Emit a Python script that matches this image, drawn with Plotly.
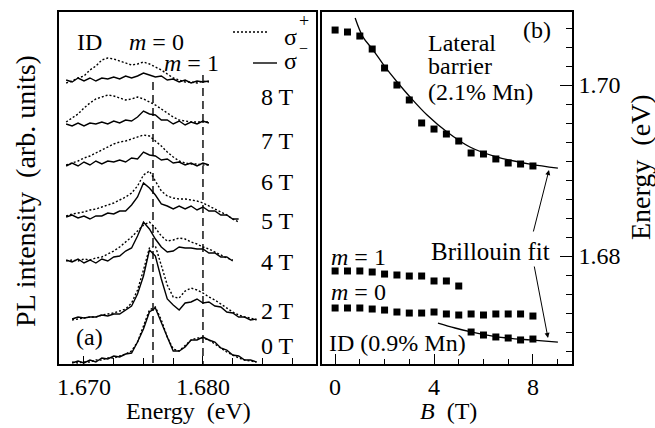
import plotly.graph_objects as go

W, H = 655, 428
FONT = "Liberation Serif, Times New Roman, serif"

# ---------------- Panel (a): PL spectra ----------------
E_GRID = [1.6685, 1.6690, 1.6695, 1.6700, 1.6705, 1.6710, 1.6715, 1.6720, 1.6725,
          1.6730, 1.6735, 1.6740, 1.6745, 1.6750, 1.6755, 1.6760, 1.6765, 1.6770,
          1.6775, 1.6780, 1.6785, 1.6790, 1.6795, 1.6800, 1.6805, 1.6810, 1.6815,
          1.6820, 1.6825, 1.6830, 1.6835, 1.6840, 1.6845, 1.6850]

FIELD_LABELS = ["8 T", "7 T", "6 T", "5 T", "4 T", "2 T", "0 T"]
START_INDEX = [0, 0, 0, 0, 0, 1, 1]

# sigma+ (dotted) intensities, arb. units (offset included)
SP_8T = [281, 283, 286, 288, 294, 298, 304, 306, 305, 303, 301, 299, 300, 302, 300, 297, 294, 290, 286, 284, 282, 282, 281, 283, 282]
SP_7T = [242, 246, 250, 256, 261, 265, 267, 269, 268, 266, 264, 265, 267, 265, 262, 259, 255, 251, 247, 244, 243, 242, 242, 242, 242]
SP_6T = [199, 201, 203, 206, 208, 211, 214, 217, 220, 222, 223, 225, 227, 229, 228, 223, 218, 212, 207, 203, 201, 200, 200, 199, 199]
SP_5T = [148, 150, 151, 152, 154, 155, 157, 159, 161, 164, 167, 171, 178, 189, 193, 183, 173, 168, 166, 165, 165, 164, 163, 161, 158, 155, 152, 149, 145, 142]
SP_4T = [103, 104, 103, 105, 104, 106, 107, 110, 113, 117, 122, 127, 133, 139, 142, 136, 128, 123, 124, 126, 125, 122, 120, 117, 115, 112, 109, 106, 104]
SP_2T = [44, 45, 46, 47, 47, 49, 50, 51, 53, 55, 61, 74, 94, 116, 118, 98, 79, 67, 66, 73, 76, 74, 71, 67, 64, 60, 56, 52, 49, 47, 46, 44]
SP_0T = [2, 1, 2, 2, 4, 4, 6, 6, 8, 10, 13, 22, 38, 54, 57, 44, 27, 15, 13, 19, 24, 26, 26, 24, 20, 16, 12, 9, 6, 4, 3, 2]

# sigma- (solid) intensities
SM_8T = [284, 282, 286, 283, 286, 283, 286, 285, 287, 285, 288, 286, 288, 291, 289, 287, 288, 284, 285, 282, 284, 281, 283, 282, 283]
SM_7T = [240, 238, 241, 238, 241, 240, 242, 240, 243, 241, 244, 243, 247, 253, 250, 249, 244, 244, 240, 243, 239, 242, 240, 243, 241]
SM_6T = [198, 201, 198, 202, 199, 203, 200, 203, 202, 204, 202, 206, 205, 212, 209, 208, 204, 205, 201, 202, 199, 201, 198, 201, 199]
SM_5T = [147, 149, 146, 148, 145, 148, 148, 151, 150, 153, 153, 159, 167, 181, 176, 169, 160, 158, 155, 158, 155, 158, 154, 157, 153, 153, 149, 149, 145, 145]
SM_4T = [104, 102, 105, 101, 104, 101, 105, 103, 107, 108, 113, 116, 128, 142, 135, 125, 117, 112, 113, 117, 116, 116, 115, 115, 111, 111, 107, 107, 103]
SM_2T = [45, 47, 46, 47, 47, 49, 48, 50, 50, 54, 58, 70, 88, 114, 108, 85, 65, 59, 54, 61, 62, 65, 61, 62, 58, 57, 52, 51, 47, 47, 44, 45]
SM_0T = [1, 3, 1, 4, 2, 6, 5, 8, 7, 10, 11, 22, 35, 52, 56, 41, 27, 13, 13, 17, 24, 24, 27, 24, 22, 16, 14, 9, 8, 4, 4, 2]

SIGMA_PLUS = [SP_8T, SP_7T, SP_6T, SP_5T, SP_4T, SP_2T, SP_0T]
SIGMA_MINUS = [SM_8T, SM_7T, SM_6T, SM_5T, SM_4T, SM_2T, SM_0T]
LABEL_LEVEL = [267, 223, 182, 143, 102, 53, 18]

M_LINE_ENERGY = [1.6758, 1.6800]
M_LINE_TOP = [282, 289]

# ---------------- Panel (b): energies vs B ----------------
B_ALL = [0, 0.5, 1, 1.5, 2, 2.5, 3, 3.5, 4, 4.5, 5, 5.5, 6, 6.5, 7, 7.5, 8]
E_LATERAL = [1.70643, 1.70620, 1.70573, 1.70421, 1.70199, 1.70000, 1.69825, 1.69556, 1.69485,
             1.69427, 1.69345, 1.69205, 1.69193, 1.69135, 1.69088, 1.69076, 1.69053]
B_M1 = [0, 0.5, 1, 1.5, 2, 2.5, 3, 3.5, 4, 4.5, 5]
E_M1 = [1.67825, 1.67825, 1.67825, 1.67813, 1.67789, 1.67778, 1.67766, 1.67766, 1.67708, 1.67708, 1.67649]
E_M0 = [1.67392, 1.67392, 1.67392, 1.67380, 1.67368, 1.67345, 1.67333, 1.67333, 1.67345,
        1.67322, 1.67310, 1.67322, 1.67310, 1.67322, 1.67322, 1.67322, 1.67298]
B_ID = [5.5, 6, 6.5, 7, 7.5, 8]
E_ID = [1.67111, 1.67076, 1.67053, 1.67041, 1.67018, 1.67029]

B_FIT_LAT = [0.81, 1.13, 1.54, 2.02, 2.51, 3.03, 3.72, 4.53, 5.45, 6.55, 7.88, 9.01]
E_FIT_LAT = [1.70784, 1.70561, 1.70409, 1.70211, 1.70035, 1.69860, 1.69649, 1.69450, 1.69275, 1.69158, 1.69076, 1.69029]
B_FIT_ID = [4.16, 4.85, 5.54, 6.26, 6.95, 7.88, 9.01]
E_FIT_ID = [1.67216, 1.67158, 1.67111, 1.67070, 1.67041, 1.67018, 1.66994]

# ---------------- figure ----------------
fig = go.Figure()

for sp, sm, s in zip(SIGMA_PLUS, SIGMA_MINUS, START_INDEX):
    fig.add_trace(go.Scatter(x=E_GRID[s:s + len(sp)], y=sp, mode="lines",
                             line=dict(color="black", width=1.4, dash="2px,2px"),
                             xaxis="x", yaxis="y", showlegend=False, hoverinfo="skip"))
    fig.add_trace(go.Scatter(x=E_GRID[s:s + len(sm)], y=sm, mode="lines",
                             line=dict(color="black", width=1.4),
                             xaxis="x", yaxis="y", showlegend=False, hoverinfo="skip"))

for e, top in zip(M_LINE_ENERGY, M_LINE_TOP):
    fig.add_trace(go.Scatter(x=[e, e], y=[top, 0], mode="lines",
                             line=dict(color="black", width=1.4, dash="8px,5px"),
                             xaxis="x", yaxis="y", showlegend=False, hoverinfo="skip"))

sq = dict(symbol="square", size=7, color="black")
fig.add_trace(go.Scatter(x=B_FIT_LAT, y=E_FIT_LAT, mode="lines", line=dict(color="black", width=1.3, shape="spline"),
                         xaxis="x2", yaxis="y2", showlegend=False))
fig.add_trace(go.Scatter(x=B_FIT_ID, y=E_FIT_ID, mode="lines", line=dict(color="black", width=1.3, shape="spline"),
                         xaxis="x2", yaxis="y2", showlegend=False))
fig.add_trace(go.Scatter(x=B_ALL, y=E_LATERAL, mode="markers", marker=sq, xaxis="x2", yaxis="y2", showlegend=False))
fig.add_trace(go.Scatter(x=B_M1, y=E_M1, mode="markers", marker=sq, xaxis="x2", yaxis="y2", showlegend=False))
fig.add_trace(go.Scatter(x=B_ALL, y=E_M0, mode="markers", marker=sq, xaxis="x2", yaxis="y2", showlegend=False))
fig.add_trace(go.Scatter(x=B_ID, y=E_ID, mode="markers", marker=sq, xaxis="x2", yaxis="y2", showlegend=False))

TICKFONT = dict(family=FONT, size=24, color="black")
YDOM = [1 - 364 / H, 1 - 12 / H]

fig.update_layout(
    width=W, height=H, margin=dict(l=0, r=0, t=0, b=0),
    paper_bgcolor="white", plot_bgcolor="white", showlegend=False,
    xaxis=dict(domain=[59 / W, 316 / W], range=[1.66790, 1.68950], showgrid=False, zeroline=False,
               showline=True, linecolor="black", linewidth=1.5, mirror=True,
               ticks="inside", ticklen=8, tickwidth=1.2, tickcolor="black", tick0=1.67, dtick=0.01,
               tickformat=".3f", tickfont=TICKFONT, automargin=False,
               minor=dict(ticks="inside", ticklen=6, tickwidth=1.2, tickcolor="black", dtick=0.0025, tick0=1.67)),
    yaxis=dict(domain=YDOM, range=[0, 352], showgrid=False, zeroline=False, showline=True,
               linecolor="black", linewidth=1.5, mirror=True, ticks="", showticklabels=False,
               automargin=False),
    xaxis2=dict(domain=[322 / W, 572 / W], range=[-0.53, 9.58], anchor="y2", showgrid=False, zeroline=False,
                showline=True, linecolor="black", linewidth=1.5, mirror=True,
                ticks="inside", ticklen=10, tickwidth=1.2, tickcolor="black", tick0=0, dtick=4,
                tickfont=TICKFONT, automargin=False,
                minor=dict(ticks="inside", ticklen=5, tickwidth=1.2, tickcolor="black", dtick=1, tick0=0)),
    yaxis2=dict(domain=YDOM, range=[1.66737, 1.70854], anchor="x2", side="right", showgrid=False,
                zeroline=False, showline=True, linecolor="black", linewidth=1.5, mirror=True,
                ticks="inside", ticklen=12, tickwidth=1.2, tickcolor="black", tick0=1.68, dtick=0.02,
                tickformat=".2f", tickfont=TICKFONT, automargin=False,
                minor=dict(ticks="inside", ticklen=6, tickwidth=1.2, tickcolor="black", dtick=0.02 / 9, tick0=1.68)),
)


def ann(text, x, y, size=24, xanchor="center", angle=0):
    return dict(text=text, x=x / W, y=1 - y / H, xref="paper", yref="paper", showarrow=False,
                font=dict(family=FONT, size=size, color="black"), xanchor=xanchor, yanchor="middle",
                textangle=angle)


annots = [
    ann("ID", 89, 42),
    ann("<i>m</i> = 0", 156, 42),
    ann("<i>m</i> = 1", 191, 63),
    ann("σ", 290, 37),
    ann("+", 304, 21, size=18),
    ann("−", 303, 48, size=16),
    ann("σ", 290, 61),
    ann("(a)", 89, 337),
    ann("(b)", 537, 30),
    ann("Lateral", 426, 43, xanchor="left"),
    ann("barrier", 426, 66, xanchor="left"),
    ann("(2.1% Mn)", 426, 92, xanchor="left"),
    ann("Brillouin fit", 490, 252, size=25),
    ann("<i>m</i> = 1", 329, 257, xanchor="left"),
    ann("<i>m</i> = 0", 329, 292, xanchor="left"),
    ann("ID (0.9% Mn)", 327, 343, xanchor="left"),
    ann("Energy  (eV)", 188, 411),
    ann("<i>B</i>  (T)", 448, 411),
    ann("PL intensity  (arb. units)", 25, 191, size=28, angle=-90),
    ann("Energy  (eV)", 640, 167, size=28, angle=-90),
]
for lab, lev in zip(FIELD_LABELS, LABEL_LEVEL):
    annots.append(dict(text=lab, x=1.6863, y=lev, xref="x", yref="y", showarrow=False,
                       font=dict(family=FONT, size=24, color="black"), xanchor="center", yanchor="middle"))

# arrows for "Brillouin fit"
annots.append(dict(text="", x=549 / W, y=1 - 170 / H, xref="paper", yref="paper", ax=-16, ay=63,
                   showarrow=True, arrowhead=2, arrowsize=1, arrowwidth=1, arrowcolor="black"))
annots.append(dict(text="", x=548 / W, y=1 - 338 / H, xref="paper", yref="paper", ax=-14, ay=-73,
                   showarrow=True, arrowhead=2, arrowsize=1, arrowwidth=1, arrowcolor="black"))
fig.update_layout(annotations=annots)

# legend samples in panel (a)
fig.update_layout(shapes=[
    dict(type="line", xref="paper", yref="paper", x0=233 / W, x1=268 / W, y0=1 - 32 / H, y1=1 - 32 / H,
         line=dict(color="black", width=1.4, dash="2px,2px")),
    dict(type="line", xref="paper", yref="paper", x0=253 / W, x1=277 / W, y0=1 - 63 / H, y1=1 - 63 / H,
         line=dict(color="black", width=1.4)),
])

fig.write_html("out.html", config={"displayModeBar": False},
               post_script="document.body.style.margin='0px';document.body.style.overflow='hidden';")
